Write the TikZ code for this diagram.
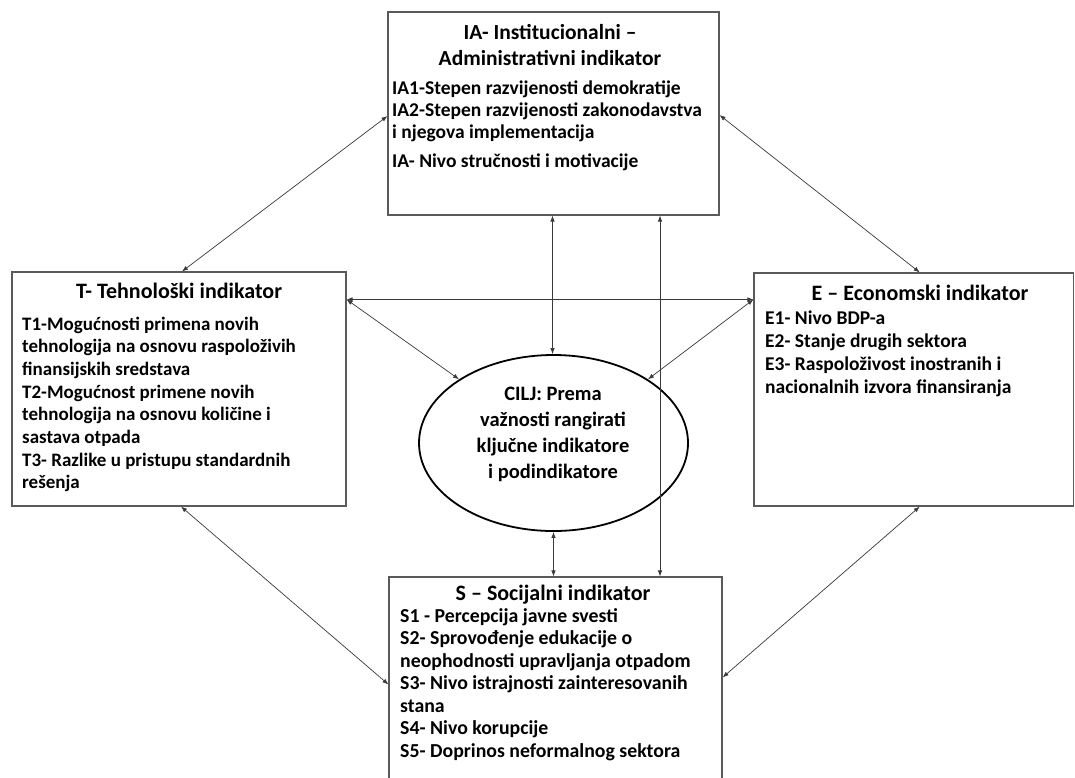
\documentclass[tikz,border=0pt]{standalone}
\usepackage{fontspec}
\setmainfont{Carlito}
\usetikzlibrary{arrows.meta,shapes.geometric}
\definecolor{boxgray}{HTML}{5A5A5A}
\definecolor{linegray}{HTML}{3A3A3A}
\begin{document}
\begin{tikzpicture}[x=1pt,y=-1pt,
  box/.style={draw=boxgray, line width=1.1pt, rectangle, inner sep=0pt},
  conn/.style={draw=linegray, line width=0.7pt, {Latex[length=6pt,width=4.5pt]}-{Latex[length=6pt,width=4.5pt]}},
  ttl/.style={font=\bfseries\fontsize{22}{26}\selectfont, inner sep=0pt, anchor=base},
  itm/.style={font=\bfseries\fontsize{19}{22.7}\selectfont, inner sep=0pt, anchor=base west}]
\clip (0,0) rectangle (1075,777);
\fill[white] (0,0) rectangle (1075,777);
% boxes
\node[box, minimum width=331pt, minimum height=203pt] (IA) at (553.5,113.5) {};
\node[box, minimum width=334pt, minimum height=234pt] (T) at (179,389) {};
\node[box, minimum width=319.5pt, minimum height=233pt] (E) at (913.75,389.5) {};
\node[box, minimum width=333pt, minimum height=223pt] (S) at (555.5,688.5) {};
\node[draw=black, line width=1.8pt, ellipse, inner sep=0pt, minimum width=269pt, minimum height=176pt] (ell) at (553.5,443) {};
% texts
\node[ttl, font=\bfseries\fontsize{21.5}{26}\selectfont] (IAt) at (550,39) {\begin{tabular}[t]{@{}c@{}}IA- Institucionalni –\\Administrativni indikator\end{tabular}};
\node[itm, font=\bfseries\fontsize{19.5}{22}\selectfont] (IAi) at (392,94) {\begin{tabular}[t]{@{}l@{}}IA1-Stepen razvijenosti demokratije\\IA2-Stepen razvijenosti zakonodavstva\\i njegova implementacija\\[7pt]IA- Nivo stručnosti i motivacije\end{tabular}};
\node[ttl] (Tt) at (179,298) {T- Tehnološki indikator};
\node[itm] (Ti) at (22,330) {\begin{tabular}[t]{@{}l@{}}T1-Mogućnosti primena novih\\tehnologija na osnovu raspoloživih\\finansijskih sredstava\\T2-Mogućnost primene novih\\tehnologija na osnovu količine i\\sastava otpada\\T3- Razlike u pristupu standardnih\\rešenja\end{tabular}};
\node[ttl] (Et) at (920,300) {E – Economski indikator};
\node[itm, font=\bfseries\fontsize{19.5}{23}\selectfont] (Ei) at (765,324) {\begin{tabular}[t]{@{}l@{}}E1- Nivo BDP-a\\E2- Stanje drugih sektora\\E3- Raspoloživost inostranih i\\nacionalnih izvora finansiranja\end{tabular}};
\node[ttl] (St) at (553,600) {S – Socijalni indikator};
\node[itm, font=\bfseries\fontsize{19.8}{22.5}\selectfont] (Si) at (400,622) {\begin{tabular}[t]{@{}l@{}}S1 - Percepcija javne svesti\\S2- Sprovođenje edukacije o\\neophodnosti upravljanja otpadom\\S3- Nivo istrajnosti zainteresovanih\\stana\\S4- Nivo korupcije\\S5- Doprinos neformalnog sektora\end{tabular}};
\node[ttl, font=\bfseries\fontsize{20.5}{26.3}\selectfont] (Ct) at (553,400) {\begin{tabular}[t]{@{}c@{}}CILJ: Prema\\važnosti rangirati\\ključne indikatore\\i podindikatore\end{tabular}};
% connectors
\draw[conn] ([yshift=-2.5pt]IA.west) -- ([xshift=3pt]T.north);
\draw[conn] ([yshift=-1.5pt]IA.east) -- ([xshift=6pt]E.north);
\draw[conn] ([yshift=-28pt]T.north east) -- ([yshift=-27pt]E.north west);
\draw[conn] ([yshift=-28pt]T.north east) -- (ell.146);
\draw[conn] ([yshift=-27pt]E.north west) -- (ell.34);
\draw[conn] ([xshift=-1pt]IA.south) -- ([xshift=-1pt]ell.north);
\draw[conn] ([xshift=106.5pt]IA.south) -- ([xshift=106.5pt]IA.south |- S.north);
\draw[conn] (ell.south) -- (ell.south |- S.north);
\draw[conn] ([xshift=2pt]T.south) -- ([yshift=-108pt]S.north west);
\draw[conn] ([xshift=6pt]E.south) -- ([yshift=-101pt]S.north east);
\end{tikzpicture}
\end{document}
